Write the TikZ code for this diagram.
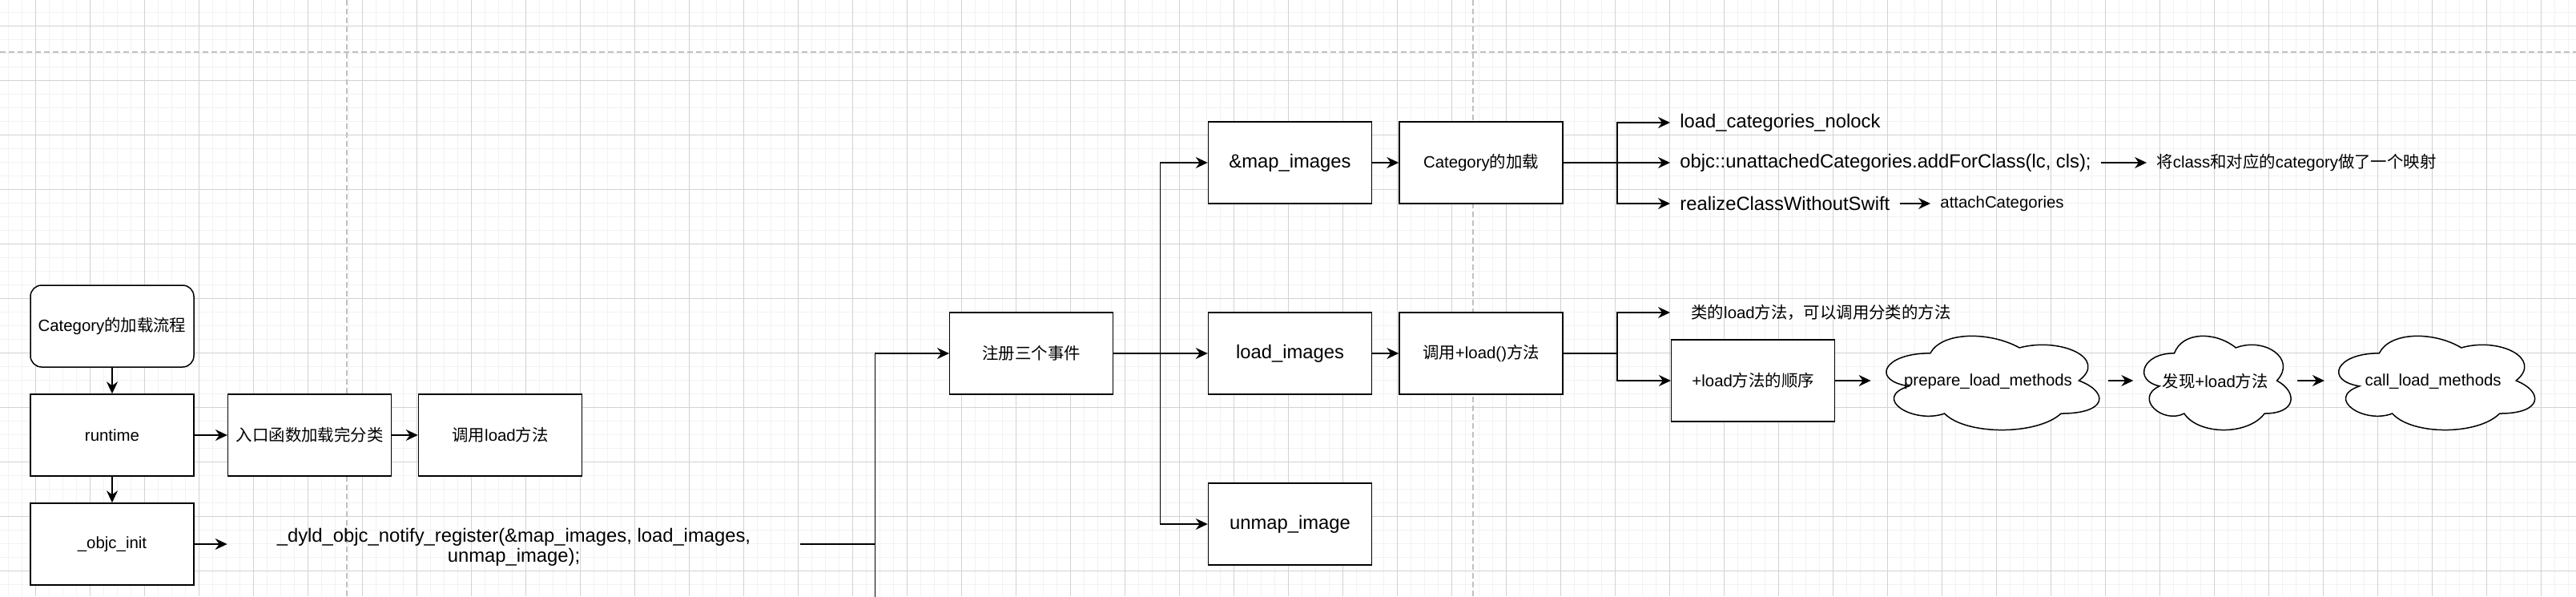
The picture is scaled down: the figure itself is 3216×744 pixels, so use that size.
\documentclass[tikz,border=0pt]{standalone}
\usepackage{fontspec}
\setmainfont{Liberation Sans}
\newfontfamily\cjk{Noto Sans CJK SC}
\usetikzlibrary{arrows.meta,calc}
\definecolor{gridmajor}{HTML}{D2D2D2}
\definecolor{gridminor}{HTML}{F2F2F2}
\definecolor{pagebreak}{HTML}{C0C0C0}
\tikzset{
  px/.style={x=0.5pt,y=-0.5pt},
  normtext/.style={font=\fontsize{10.2pt}{12.2pt}\selectfont},
  bigtext/.style={font=\fontsize{11.9pt}{12.2pt}\selectfont},
  stepbox/.style={draw=black, line width=0.75pt, fill=white, minimum width=102pt, minimum height=51pt, inner sep=0pt, align=center},
  roundbox/.style={stepbox, rounded corners=7pt},
  cloudframe/.style={inner sep=0pt, minimum height=68pt},
  cloudline/.style={draw=black, line width=0.75pt, fill=white},
  freetext/.style={inner xsep=6pt, inner ysep=2pt, anchor=west},
  arr/.style={draw=black, line width=0.75pt, -{Stealth[length=7.5pt,width=7pt,inset=2.5pt]}},
  conn/.style={draw=black, line width=0.75pt},
  minorline/.style={draw=gridminor, line width=0.8pt},
  majorline/.style={draw=gridmajor, line width=0.5pt},
  breakline/.style={draw=pagebreak, line width=0.65pt, dash pattern=on 3.5pt off 2pt},
}
% draw.io style cloud outline inside the frame of node #1
\newcommand\drawcloudon[1]{%
  \begin{scope}[x={($(#1.north east)-(#1.north west)$)}, y={($(#1.south west)-(#1.north west)$)}, shift={(#1.north west)}]
    \draw[cloudline] (0.25,0.25) .. controls (0.05,0.25) and (0,0.5) .. (0.16,0.55)
      .. controls (0,0.66) and (0.18,0.9) .. (0.31,0.8)
      .. controls (0.4,1) and (0.7,1) .. (0.8,0.8)
      .. controls (1,0.8) and (1,0.6) .. (0.875,0.5)
      .. controls (1,0.3) and (0.8,0.1) .. (0.625,0.2)
      .. controls (0.5,0.05) and (0.3,0.05) .. (0.25,0.25) -- cycle;
  \end{scope}}
\begin{document}
\begin{tikzpicture}[px]
\useasboundingbox (0,0) rectangle (3216,744);
\fill[white] (0,0) rectangle (3216,744);
% grid
\foreach \i in {0,...,189} \draw[minorline] ({10.3+17*\i},0) -- ({10.3+17*\i},744);
\foreach \j in {0,...,43} \draw[minorline] (0,{15.3+17*\j}) -- (3216,{15.3+17*\j});
\foreach \i in {0,...,46} \draw[majorline] ({44.3+68*\i},0) -- ({44.3+68*\i},744);
\foreach \j in {0,...,10} \draw[majorline] (0,{32.3+68*\j}) -- (3216,{32.3+68*\j});
\draw[breakline] (0,65) -- (3216,65);
\draw[breakline] (433,0) -- (433,744);
\draw[breakline] (1839,0) -- (1839,744);
% nodes
\node[roundbox, normtext] (cat) at (140,407) {Category{\cjk 的加载流程}};
\node[stepbox, normtext] (runtime) at (140,543) {runtime};
\node[stepbox, normtext] (objcinit) at (140,679) {\_objc\_init};
\node[stepbox, normtext] (entry) at (386.6,543) {{\cjk 入口函数加载完分类}};
\node[stepbox, normtext] (callload) at (624.5,543) {{\cjk 调用}load{\cjk 方法}};
\node[bigtext, align=center, minimum width=357.5pt, minimum height=30pt, inner sep=0pt] (dyld) at (641.5,683) {\_dyld\_objc\_notify\_register(\&map\_images, load\_images,\\unmap\_image);};
\node[stepbox, normtext] (reg) at (1287.7,441) {{\cjk 注册三个事件}};
\node[stepbox, bigtext] (mapimg) at (1610.5,203) {\&map\_images};
\node[stepbox, bigtext] (loadimg) at (1610.5,441) {load\_images};
\node[stepbox, bigtext] (unmap) at (1610.5,654) {unmap\_image};
\node[stepbox, normtext] (catload) at (1849,203) {Category{\cjk 的加载}};
\node[stepbox, normtext] (callplus) at (1849,441) {{\cjk 调用}+load(){\cjk 方法}};
\node[stepbox, normtext] (order) at (2188.7,475) {+load{\cjk 方法的顺序}};
% clouds
\node[cloudframe, minimum width=148pt] (cl1) at (2484,475) {};
\drawcloudon{cl1}
\node[normtext] (cl1t) at ($(cl1)+(-2,1)$) {prepare\_load\_methods};
\node[cloudframe, minimum width=102pt] (cl2) at (2765.7,475) {};
\drawcloudon{cl2}
\node[normtext] (cl2t) at ($(cl2)+(0,1)$) {{\cjk 发现}+load{\cjk 方法}};
\node[cloudframe, minimum width=136.3pt] (cl3) at (3038.6,475) {};
\drawcloudon{cl3}
\node[normtext] (cl3t) at ($(cl3)+(-1,1)$) {call\_load\_methods};
% free texts
\node[freetext, bigtext] (t1) at (2085,153) {load\_categories\_nolock};
\node[freetext, bigtext] (t2) at (2085,203) {objc::unattachedCategories.addForClass(lc, cls);};
\node[freetext, bigtext] (t3) at (2085,254) {realizeClassWithoutSwift};
\node[freetext, normtext] (t4) at (2410,254) {attachCategories};
\node[freetext, normtext] (t5) at (2680,203) {{\cjk 将}class{\cjk 和对应的}category{\cjk 做了一个映射}};
\node[freetext, normtext, inner xsep=13pt] (t6) at (2085,390) {{\cjk 类的}load{\cjk 方法，可以调用分类的方法}};
% connectors
\draw[arr] (cat) -- (runtime);
\draw[arr] (runtime) -- (objcinit);
\draw[arr] (runtime) -- (entry);
\draw[arr] (entry) -- (callload);
\draw[arr] (objcinit.east) -- (objcinit.east -| dyld.west);
\coordinate (j1) at (1092.5,679);
\coordinate (jend) at (1092.5,760);
\draw[conn] (dyld.east |- j1) -- (j1) -- (jend);
\draw[arr] (j1) |- (reg.west);
\coordinate (j2) at (1448.7,441);
\draw[arr] (reg.east) -- (loadimg.west);
\draw[arr] (reg.east) -- (j2) |- (mapimg.west);
\draw[arr] (reg.east) -- (j2) |- (unmap.west);
\draw[arr] (mapimg) -- (catload);
\draw[arr] (loadimg) -- (callplus);
\coordinate (j3) at (2018.8,203);
\draw[arr] (catload.east) -- (j3) |- (t1.west);
\draw[arr] (catload.east) -- (t2.west);
\draw[arr] (catload.east) -- (j3) |- (t3.west);
\draw[arr] (t3) -- (t4);
\draw[arr] (t2) -- (t5);
\coordinate (j4) at (2018.8,441);
\draw[arr] (callplus.east) -- (j4) |- (t6.west);
\draw[arr] (callplus.east) -- (j4) |- (order.west);
\draw[arr] (order.east) -- (cl1.west);
\draw[arr] (cl1.east) -- (cl2.west);
\draw[arr] (cl2.east) -- (cl3.west);
\end{tikzpicture}
\end{document}
